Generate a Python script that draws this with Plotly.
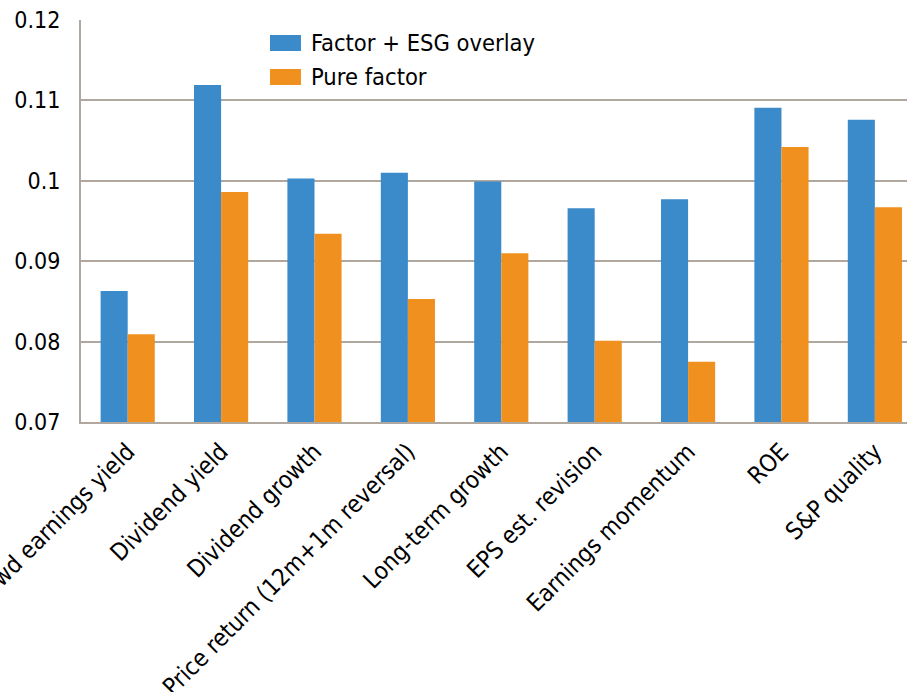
import plotly.graph_objects as go

# Factor categories along the x axis
categories = [
    "Fwd earnings yield",
    "Dividend yield",
    "Dividend growth",
    "Price return (12m+1m reversal)",
    "Long-term growth",
    "EPS est. revision",
    "Earnings momentum",
    "ROE",
    "S&P quality",
]

# Series values
esg_overlay = [0.0863, 0.1119, 0.1003, 0.1010, 0.0999, 0.0966, 0.0977, 0.1091, 0.1076]
pure_factor = [0.0809, 0.0986, 0.0934, 0.0853, 0.0910, 0.0801, 0.0775, 0.1042, 0.0967]

series_names = ["Factor + ESG overlay", "Pure factor"]
y_ticks = [0.07, 0.08, 0.09, 0.10, 0.11, 0.12]
y_tick_labels = ["0.07", "0.08", "0.09", "0.1", "0.11", "0.12"]

BLUE = "#3B8ACA"
ORANGE = "#F0901F"
GRID = "#B0A89E"
FONT = "DejaVu Sans Condensed, DejaVu Sans, sans-serif"

fig = go.Figure()
fig.add_trace(go.Bar(x=categories, y=esg_overlay, name=series_names[0],
                     marker=dict(color=BLUE, line=dict(width=0))))
fig.add_trace(go.Bar(x=categories, y=pure_factor, name=series_names[1],
                     marker=dict(color=ORANGE, line=dict(width=0))))

# Hand-built legend with wide swatches
legend_rows = [(0.9627, 0.9229, BLUE, series_names[0]),
               (0.8781, 0.8383, ORANGE, series_names[1])]
for y_top, y_bot, color, label in legend_rows:
    fig.add_shape(type="rect", xref="paper", yref="paper",
                  x0=0.2288, x1=0.2663, y0=y_bot, y1=y_top,
                  fillcolor=color, line=dict(width=0), layer="above")
    fig.add_annotation(xref="paper", yref="paper", x=0.2760, y=(y_top + y_bot) / 2,
                       text=label, showarrow=False, xanchor="left", yanchor="middle",
                       font=dict(family=FONT, size=23.5, color="#000000"))

fig.update_layout(
    width=907, height=692,
    margin=dict(l=81, r=0, t=20, b=270, autoexpand=False),
    paper_bgcolor="white", plot_bgcolor="white",
    barmode="group", bargap=0.42, bargroupgap=0,
    showlegend=False,
    font=dict(family=FONT, size=23, color="#000000"),
)
fig.update_xaxes(
    type="category", range=[-0.5, 8.344], automargin=False,
    tickangle=-45, tickfont=dict(family=FONT, size=24, color="#000000"),
    showline=True, linecolor=GRID, linewidth=2, showgrid=False,
    ticks="", zeroline=False, ticklabelstandoff=4,
)
fig.update_yaxes(
    range=[0.07, 0.12], tickvals=y_ticks, ticktext=y_tick_labels, automargin=False,
    tickfont=dict(family=FONT, size=23, color="#000000"),
    showline=True, linecolor=GRID, linewidth=2,
    showgrid=True, gridcolor=GRID, gridwidth=2,
    ticks="", zeroline=False, ticklabelstandoff=14,
)

fig.write_html("out.html")
